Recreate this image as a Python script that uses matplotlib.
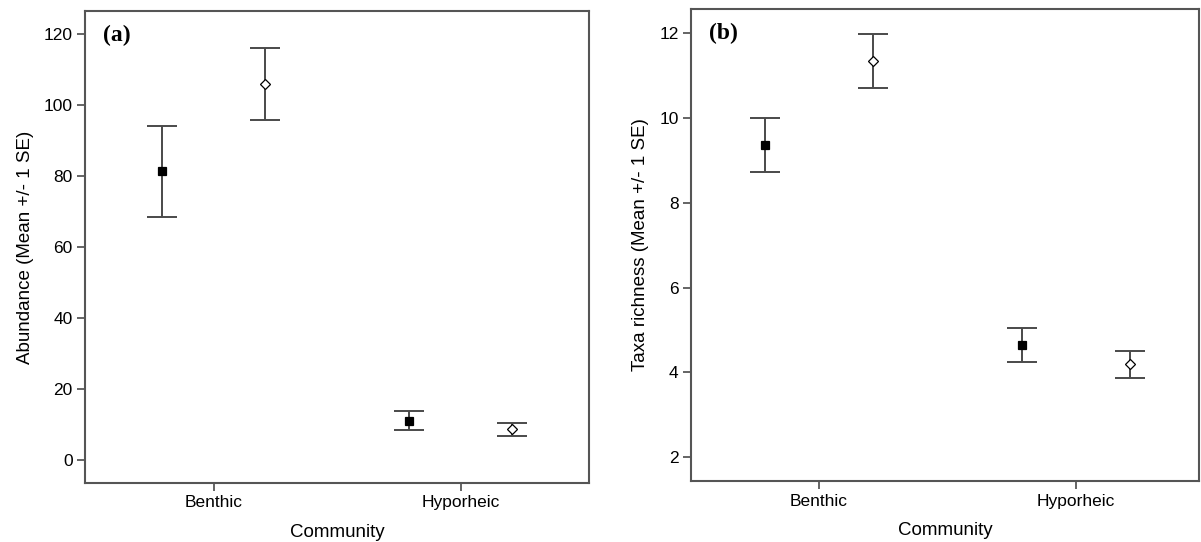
import matplotlib
matplotlib.use("Agg")
import matplotlib.pyplot as plt

plt.rcParams.update({
    "font.family": ["Liberation Sans", "DejaVu Sans"],
    "font.size": 12.5,
})

communities = ["Benthic", "Hyporheic"]
offset = 0.21

# panel (a): abundance
abund_sq_mean = [81.3, 11.0]
abund_sq_lo = [68.3, 8.3]
abund_sq_hi = [94.2, 13.8]
abund_di_mean = [105.8, 8.6]
abund_di_lo = [95.8, 6.6]
abund_di_hi = [116.0, 10.5]

# panel (b): taxa richness
rich_sq_mean = [9.36, 4.64]
rich_sq_lo = [8.73, 4.25]
rich_sq_hi = [9.99, 5.04]
rich_di_mean = [11.35, 4.20]
rich_di_lo = [10.71, 3.88]
rich_di_hi = [11.98, 4.51]

LINE = "#4a4a4a"


def draw(ax, sq, di, ylim, yticks, ylabel, tag, xlim):
    xs = [1, 2]
    for (mean, lo, hi), dx, marker, face, ms in [
        (sq, -offset, "s", "black", 5.5),
        (di, offset, "D", "white", 5.0),
    ]:
        x = [v + dx for v in xs]
        err = [[m - l for m, l in zip(mean, lo)], [h - m for m, h in zip(mean, hi)]]
        ax.errorbar(x, mean, yerr=err, fmt="none", ecolor=LINE,
                    elinewidth=1.4, capsize=11, capthick=1.4, zorder=2)
        ax.plot(x, mean, linestyle="", marker=marker, markersize=ms,
                markerfacecolor=face, markeredgecolor="black",
                markeredgewidth=0.9, zorder=3)
    ax.set_xlim(*xlim)
    ax.set_ylim(*ylim)
    ax.set_xticks(xs)
    ax.set_xticklabels(communities)
    ax.set_yticks(yticks)
    ax.set_xlabel("Community", fontsize=13.5, labelpad=10)
    ax.set_ylabel(ylabel, fontsize=13.5, labelpad=7)
    ax.tick_params(direction="out", length=6, width=1.2, color=LINE, pad=3)
    for s in ax.spines.values():
        s.set_color("#555555")
        s.set_linewidth(1.5)
    ax.text(0.035, 0.97, tag, transform=ax.transAxes, ha="left", va="top",
            fontsize=17, fontweight="bold", family="Liberation Serif")


fig = plt.figure(figsize=(12.01, 5.42), dpi=100)
ax1 = fig.add_axes([0.0708, 0.1089, 0.4197, 0.871])
ax2 = fig.add_axes([0.5754, 0.1125, 0.4230, 0.8708])

draw(ax1, (abund_sq_mean, abund_sq_lo, abund_sq_hi),
     (abund_di_mean, abund_di_lo, abund_di_hi),
     (-6.5, 126.5), [0, 20, 40, 60, 80, 100, 120],
     "Abundance (Mean +/- 1 SE)", "(a)", (0.48, 2.52))
draw(ax2, (rich_sq_mean, rich_sq_lo, rich_sq_hi),
     (rich_di_mean, rich_di_lo, rich_di_hi),
     (1.44, 12.57), [2, 4, 6, 8, 10, 12],
     "Taxa richness (Mean +/- 1 SE)", "(b)", (0.503, 2.48))

fig.savefig("out.png", dpi=100)
